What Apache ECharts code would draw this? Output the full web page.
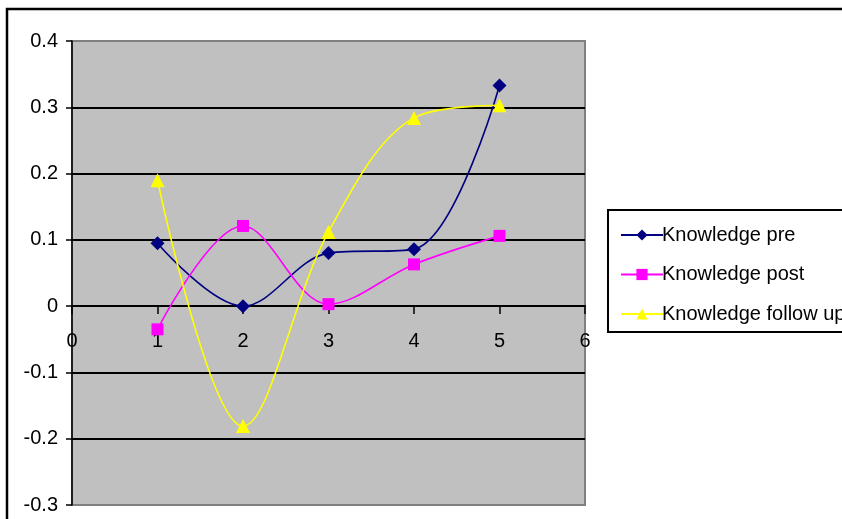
<!DOCTYPE html>
<html><head><meta charset="utf-8">
<script src="https://cdn.jsdelivr.net/npm/echarts@6/dist/echarts.min.js"></script>
<style>html,body{margin:0;padding:0;background:#fff;}#c{width:842px;height:519px;}</style>
</head><body><div id="c"></div>
<script>
var xValues = [1, 2, 3, 4, 5];
var knowledgePre = [0.095, 0.0, 0.08, 0.086, 0.333];
var knowledgePost = [-0.035, 0.121, 0.003, 0.063, 0.106];
var knowledgeFollowUp = [0.19, -0.181, 0.112, 0.284, 0.303];
var seriesNames = ['Knowledge pre', 'Knowledge post', 'Knowledge follow up'];

function pairs(ys){ return xValues.map(function(x,i){ return [x, ys[i]]; }); }

var chart = echarts.init(document.getElementById('c'), null, {renderer:'canvas'});
var font = 'Liberation Sans, Arial, sans-serif';
function mk(name, data, color, symbol, size){
  return {name:name, type:'line', data:pairs(data), smooth:0.35,
    symbol:symbol, symbolSize:size, showSymbol:true,
    lineStyle:{color:color, width:1.6}, itemStyle:{color:color},
    emphasis:{disabled:true}, animation:false};
}
chart.setOption({
  animation:false,
  grid:{left:72, top:41, width:513, height:464, outerBoundsMode:'none', containLabel:false,
    show:true, backgroundColor:'#C0C0C0', borderColor:'#808080', borderWidth:2},
  xAxis:{type:'value', min:0, max:6, interval:1, position:'bottom', offset:-199,
    axisLine:{show:true, onZero:false, lineStyle:{color:'#000', width:2}},
    axisTick:{show:true, inside:false, length:8, lineStyle:{color:'#000', width:1.5}},
    axisLabel:{color:'#000', fontSize:20, fontFamily:font, margin:25},
    splitLine:{show:false}},
  yAxis:{type:'value', min:-0.3, max:0.4, interval:0.1,
    axisLine:{show:true, onZero:false, lineStyle:{color:'#000', width:1.5}},
    axisTick:{show:true, length:6, lineStyle:{color:'#000', width:1.5}},
    axisLabel:{color:'#000', fontSize:20, fontFamily:font, margin:14,
      formatter:function(v){ var r=Math.round(v*10)/10; return r===0?'0':String(r); }},
    splitLine:{show:true, showMinLine:false, showMaxLine:false, lineStyle:{color:'#000', width:2}}},
  legend:{show:true, orient:'vertical', left:615, top:220, itemWidth:42, itemHeight:14, itemGap:19.5,
    textStyle:{color:'#000', fontSize:20, fontFamily:font, padding:[0,0,0,-6]},
    data:seriesNames},
  graphic:[
    {type:'rect', shape:{x:7, y:9, width:900, height:600}, style:{fill:null, stroke:'#000', lineWidth:2.5}, z:-1, silent:true},
    {type:'rect', shape:{x:608, y:210, width:300, height:122}, style:{fill:'#fff', stroke:'#000', lineWidth:2}, z:-1, silent:true}
  ],
  series:[
    mk(seriesNames[0], knowledgePre, '#000080', 'diamond', 14),
    mk(seriesNames[1], knowledgePost, '#FF00FF', 'rect', 12),
    mk(seriesNames[2], knowledgeFollowUp, '#FFFF00', 'triangle', 14)
  ]
});
</script></body></html>
